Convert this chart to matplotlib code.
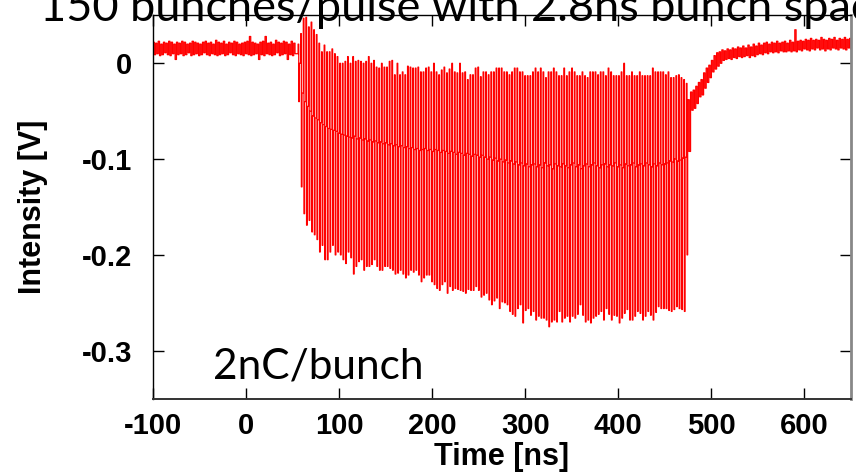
import matplotlib

matplotlib.use("Agg")
import matplotlib.pyplot as plt
import numpy as np

TITLE = "150 bunches/pulse with 2.8ns bunch spacing"
NOTE = "2nC/bunch"
XLABEL = "Time [ns]"
YLABEL = "Intensity [V]"

XTICKS = [-100, 0, 100, 200, 300, 400, 500, 600]
YTICKS = [0, -0.1, -0.2, -0.3]
YTICK_LABELS = ["0", "-0.1", "-0.2", "-0.3"]

PERIOD_NS = 2.8

# baseline before the train, one (high, low) pair per 2.8 ns bin, mV
PRE_START_NS = -100.0
PRE_HI = [22, 21, 23, 20, 22, 21, 23, 22, 20, 22,
          21, 23, 22, 20, 21, 23, 22, 21, 20, 22,
          23, 21, 22, 20, 24, 22, 21, 23, 20, 22,
          21, 23, 22, 20, 21, 22, 23, 28, 22, 21,
          20, 22, 23, 28, 21, 22, 20, 24, 22, 21,
          23, 22, 20, 23, 21]
PRE_LO = [9, 10, 8, 9, 11, 9, 8, 10, 4, 9,
          10, 8, 9, 11, 8, 9, 10, 8, 9, 11,
          9, 8, 10, 9, 8, 9, 10, 8, 9, 11,
          9, 8, 10, 9, 8, 10, 9, 8, 9, 10,
          4, 9, 8, 10, 9, 8, 9, 11, 8, 9,
          10, 4, 9, 8, 10]

# bunch train: top, bottom and settle level of every bunch, mV
BUNCH_START_NS = 55.9
BUNCH_TOP = [20, 31, 47, 48, 38, 43, 35, 30, 21, 12,
             19, 12, 12, 15, 10, 7, 0, 0, 2, 7,
             0, 7, 2, 3, 2, 0, 2, 7, 0, 3,
             -4, -5, 0, -4, -4, 2, 3, -12, 0, -12,
             -9, -12, -3, -4, -5, -5, -4, -9, -9, -5,
             -4, -9, 0, -9, -12, -7, -4, -10, -6, 0,
             -9, -10, 0, -10, -9, -17, -12, -12, -5, -4,
             -14, -9, -9, -12, -9, -9, -5, -5, -5, -9,
             -9, -12, -9, -5, -5, -9, -9, -13, -13, -13,
             -9, -5, -9, -5, -9, -15, -9, -9, -5, -9,
             -13, -13, -5, -13, -9, -5, -9, -13, -13, -9,
             -13, -15, -9, -9, -9, -12, -9, -9, -13, -5,
             -9, -13, -13, -13, -9, 0, -13, -13, -9, -13,
             -13, -9, -13, -13, -13, -13, -5, -9, -9, -9,
             -9, -12, -9, -15, -15, -13, -12, -15, -17, -21]
BUNCH_BOTTOM = [-40, -129, -157, -169, -164, -176, -179, -184, -197, -190,
                -205, -205, -197, -190, -200, -197, -200, -205, -209, -197,
                -203, -220, -212, -207, -205, -216, -212, -212, -210, -205,
                -212, -216, -216, -212, -212, -214, -216, -220, -219, -216,
                -220, -224, -221, -216, -218, -216, -221, -228, -224, -221,
                -221, -228, -231, -235, -237, -231, -228, -240, -233, -237,
                -235, -236, -237, -238, -240, -236, -237, -237, -233, -237,
                -244, -242, -240, -247, -252, -248, -245, -256, -249, -250,
                -252, -259, -262, -264, -256, -252, -271, -258, -256, -263,
                -259, -268, -264, -266, -266, -268, -275, -270, -268, -270,
                -259, -270, -266, -264, -270, -264, -266, -262, -252, -263,
                -270, -268, -271, -266, -264, -262, -259, -268, -256, -262,
                -268, -263, -264, -271, -266, -261, -257, -268, -268, -264,
                -259, -261, -268, -264, -259, -263, -268, -260, -254, -256,
                -256, -256, -258, -259, -257, -254, -256, -257, -259, -200]
BUNCH_MID = [0, -31, -40, -45, -50, -55, -57, -59, -62, -64,
             -66, -68, -69, -70, -71, -73, -74, -75, -76, -77,
             -78, -76, -79, -78, -80, -79, -81, -80, -82, -81,
             -83, -82, -84, -83, -85, -84, -86, -85, -87, -86,
             -88, -87, -89, -88, -90, -89, -91, -90, -89, -91,
             -90, -92, -90, -91, -93, -91, -92, -94, -92, -93,
             -95, -93, -94, -96, -94, -95, -97, -95, -96, -98,
             -96, -98, -100, -98, -101, -99, -102, -100, -103, -101,
             -104, -102, -105, -103, -106, -104, -107, -105, -108, -106,
             -105, -108, -106, -109, -104, -107, -106, -110, -105, -107,
             -108, -105, -107, -109, -106, -104, -108, -106, -110, -107,
             -105, -108, -106, -104, -107, -109, -106, -105, -108, -106,
             -107, -104, -108, -106, -109, -105, -107, -106, -104, -108,
             -106, -105, -107, -104, -106, -108, -105, -107, -104, -106,
             -105, -104, -102, -103, -100, -102, -101, -99, -98, -92]

# recovery after the train, (high, low) per 2.8 ns bin, mV
POST_START_NS = 474.8
POST_HI = [-38, -30, -28, -24, -20, -17, -10, -5, -2, 3,
           8, 11, 12, 14, 13, 15, 14, 16, 15, 17,
           16, 18, 16, 19, 17, 20, 18, 21, 19, 21,
           22, 20, 22, 21, 23, 21, 22, 23, 21, 24,
           22, 35, 23, 24, 23, 25, 24, 26, 24, 25,
           24, 27, 25, 24, 26, 25, 27, 24, 26, 25,
           27, 25, 26]
POST_LO = [-92, -49, -47, -42, -35, -33, -26, -20, -15, -9,
           -6, -3, 0, 3, 4, 5, 4, 6, 5, 7,
           6, 7, 8, 6, 8, 7, 9, 10, 9, 11,
           10, 12, 11, 12, 11, 13, 12, 12, 13, 12,
           13, 12, 14, 13, 15, 14, 13, 15, 14, 16,
           14, 15, 13, 15, 14, 16, 15, 14, 16, 15,
           14, 16, 15]


def band_samples(start, hi, lo):
    t0 = start + PERIOD_NS * np.arange(len(hi))
    t = np.column_stack([t0, t0 + PERIOD_NS / 2]).ravel()
    v = np.column_stack([hi, lo]).ravel()
    return t, v


def bunch_samples():
    t0 = BUNCH_START_NS + PERIOD_NS * np.arange(len(BUNCH_TOP))
    t = np.column_stack([t0, t0 + 0.7, t0 + 1.4]).ravel()
    v = np.column_stack([BUNCH_TOP, BUNCH_BOTTOM, BUNCH_MID]).ravel()
    return t, v


def main() -> None:
    plt.rcParams["font.family"] = ["Liberation Sans", "DejaVu Sans"]

    parts = [band_samples(PRE_START_NS, PRE_HI, PRE_LO), bunch_samples(),
             band_samples(POST_START_NS, POST_HI, POST_LO)]
    t = np.concatenate([p[0] for p in parts])
    v = np.concatenate([p[1] for p in parts]) / 1000.0

    fig = plt.figure(figsize=(8.56, 4.76), dpi=100)
    ax = fig.add_axes([153 / 856, 1 - 398.6 / 476, 698 / 856, 383.2 / 476])
    ax.plot(t, v, drawstyle="steps-post", color="#ff0000", linewidth=0.9)

    ax.set_xlim(-100, 650)
    ax.set_ylim(-0.35, 0.05)
    ax.set_xticks(XTICKS, [str(x) for x in XTICKS])
    ax.set_yticks(YTICKS, YTICK_LABELS)
    ax.tick_params(direction="in", length=8, width=1, top=True, right=True, labelsize=21)
    ax.tick_params(axis="x", pad=10)
    ax.tick_params(axis="y", pad=15)
    for lab in ax.get_xticklabels() + ax.get_yticklabels():
        lab.set_fontweight("bold")
    for side in ["left", "top"]:
        ax.spines[side].set_linewidth(1.0)
    ax.spines["bottom"].set_linewidth(1.4)
    ax.spines["bottom"].set_color("#333333")
    ax.spines["right"].set_linewidth(2.0)
    ax.spines["right"].set_color("#888888")

    ax.text(-36, -0.3285, NOTE, fontfamily="Lato", fontsize=30.5, va="baseline")
    fig.text(40 / 856, 1 - 21 / 476, TITLE, fontfamily="Lato", fontsize=32.5, va="baseline")
    fig.text(502 / 856, 1 - 465 / 476, XLABEL, fontsize=22, fontweight="bold",
             ha="center", va="baseline")
    fig.text(33 / 856, 1 - 207 / 476, YLABEL, fontsize=22, fontweight="bold",
             rotation=90, ha="center", va="center")

    fig.savefig("out.png", dpi=100)
    plt.close(fig)


if __name__ == "__main__":
    main()
